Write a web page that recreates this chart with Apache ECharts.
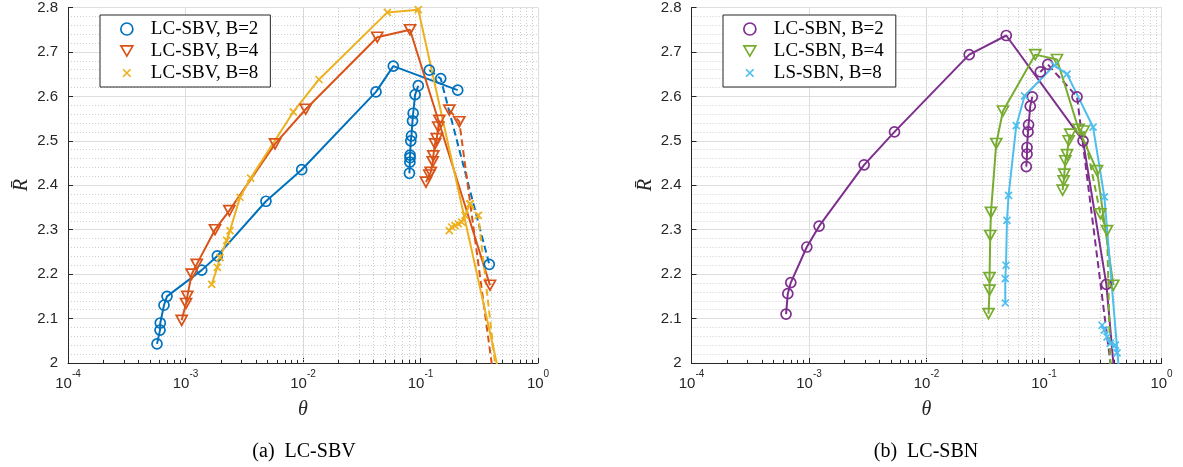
<!DOCTYPE html>
<html><head><meta charset="utf-8">
<script src="https://cdn.jsdelivr.net/npm/echarts@6/dist/echarts.min.js"></script>
<style>html,body{margin:0;padding:0;background:#fff}#c{width:1183px;height:467px}</style>
</head><body><div id="c"></div>
<script>
// ---------- data (theta, R-bar) ----------
// Panel (a) LC-SBV
const sbvB2Main = [[5.72e-4,2.043],[6.07e-4,2.074],[6.1e-4,2.090],[6.56e-4,2.130],[6.96e-4,2.150],[1.374e-3,2.209],[1.865e-3,2.241],[4.84e-3,2.364],[9.75e-3,2.435],[0.0418,2.610],[0.0587,2.668],[0.2073,2.614]];
const sbvB2Cluster = [[0.0805,2.427],[0.0812,2.452],[0.0815,2.462],[0.0815,2.468],[0.0827,2.500],[0.0838,2.511],[0.0855,2.545],[0.0866,2.562],[0.0900,2.604],[0.0957,2.624]];
const sbvB2Dash = [[0.1188,2.659],[0.1486,2.640],[0.385,2.222]];
const sbvB4Main = [[9.28e-4,2.096],[1.01e-3,2.134],[1.036e-3,2.150],[1.129e-3,2.200],[1.246e-3,2.222],[1.783e-3,2.300],[2.36e-3,2.343],[5.78e-3,2.493],[0.01054,2.571],[0.04288,2.733],[0.0814,2.750],[0.3905,2.175]];
const sbvB4Cluster = [[0.1113,2.407],[0.1188,2.423],[0.1221,2.429],[0.127,2.453],[0.1285,2.466],[0.1329,2.493],[0.1374,2.505],[0.1417,2.531],[0.1446,2.546]];
const sbvB4Dash = [[0.1758,2.569],[0.2139,2.543],[0.4124,1.98]];
const sbvB8Main = [[1.671e-3,2.177],[1.865e-3,2.215],[1.966e-3,2.237],[2.242e-3,2.276],[2.392e-3,2.298],[2.909e-3,2.373],[3.588e-3,2.416],[8.27e-3,2.565],[0.01368,2.638],[0.0522,2.789],[0.0958,2.795],[0.463,1.98]];
const sbvB8Cluster = [[0.1758,2.298],[0.1842,2.306],[0.1966,2.309],[0.2098,2.313],[0.2242,2.317],[0.2392,2.332],[0.2638,2.358]];
const sbvB8Dash = [[0.2638,2.358],[0.3103,2.332],[0.439,1.98]];
// Panel (b) LC-SBN
const sbnB2Main = [[6.38e-4,2.110],[6.60e-4,2.156],[7.0e-4,2.181],[9.58e-4,2.261],[1.219e-3,2.308],[2.946e-3,2.446],[5.34e-3,2.520],[0.0231,2.694],[0.04774,2.737],[0.2149,2.500],[0.3394,2.177],[0.3954,1.98]];
const sbnB2Cluster = [[0.0707,2.442],[0.0717,2.470],[0.0717,2.485],[0.0731,2.520],[0.0739,2.536],[0.0764,2.578],[0.0795,2.599]];
const sbnB2Dash = [[0.0930,2.655],[0.1077,2.672],[0.1910,2.599],[0.376,1.98]];
const sbnB4Main = [[0.03373,2.111],[0.0344,2.164],[0.0344,2.192],[0.03488,2.287],[0.03537,2.339],[0.03924,2.494],[0.04475,2.567],[0.0843,2.694],[0.1290,2.683],[0.197,2.526],[0.2828,2.433],[0.3892,2.175]];
const sbnB4Cluster = [[0.1441,2.389],[0.1469,2.410],[0.1489,2.425],[0.1518,2.455],[0.157,2.469],[0.162,2.500],[0.1675,2.515]];
const sbnB4Dash = [[0.2175,2.522],[0.3017,2.336],[0.344,2.298],[0.368,1.98]];
const sbnB8Main = [[0.04682,2.135],[0.04682,2.190],[0.0475,2.220],[0.0484,2.321],[0.04995,2.377],[0.05808,2.534],[0.06836,2.601],[0.1224,2.670],[0.157,2.650],[0.2615,2.531],[0.3264,2.374],[0.4354,1.98]];
const sbnB8Cluster = [[0.3119,2.085],[0.3264,2.074],[0.344,2.059],[0.367,2.044],[0.4048,2.040],[0.4185,2.023]];

const legendA = ['LC-SBV, B=2','LC-SBV, B=4','LC-SBV, B=8'];
const legendB = ['LC-SBN, B=2','LC-SBN, B=4','LS-SBN, B=8'];
const captions = ['(a)  LC-SBV','(b)  LC-SBN'];
const xMin = 1e-4, xMax = 1;
const yMin = 2, yMax = 2.8, yStep = 0.1;
const decades = [1e-4,1e-3,1e-2,1e-1];
const minorMultipliers = [2,3,4,5,6,7,8,9];

// ---------- styling ----------
const BLUE='#0072BD', ORANGE='#D95319', YELLOW='#EDB120', PURPLE='#7E2F8E', GREEN='#77AC30', CYAN='#4DBEEE';
const SYM = {o:'circle', v:'path://M0,0L10,0L5,8.66Z', x:'path://M0,0L10,10M10,0L0,10'};
const LEG_SYM = {o:'circle', v:'path://M0,0L10,0L5,8.66Z M0,-0.7L0,-0.7 M10,9.4L10,9.4', x:'path://M-3,-3L-3,-3 M13,13L13,13 M0,0L10,10M10,0L0,10'};
const SIZE = {o:10, v:[11,10], x:7};
const AX = '#262626';
const SERIF = '"Liberation Serif", "Times New Roman", serif';
const SANS = '"Liberation Sans", Arial, Helvetica, sans-serif';

function ser(name, data, color, sym, gi, dashed){
  return {type:'line', name:name, data:data, xAxisIndex:gi, yAxisIndex:gi,
    symbol:SYM[sym], symbolSize:SIZE[sym], showSymbol:true, showAllSymbol:true, clip:true, z:3,
    lineStyle:{color:color, width:2, type: dashed ? [7,4] : 'solid'},
    itemStyle:{color:'rgba(0,0,0,0)', borderColor:color, borderWidth:1.7},
    emphasis:{disabled:true}, animation:false};
}

const minorX = [];
decades.forEach(d => minorMultipliers.forEach(m => minorX.push(m*d)));
function markers(){
  const data = [];
  minorX.forEach(v => data.push({xAxis:v, lineStyle:{color:'#cfcfcf', type:[1,2], width:1}}));
  minorX.forEach(v => data.push([{coord:[v,yMin], lineStyle:{color:AX, width:1, type:'solid'}},{coord:[v,yMin+0.007]}]));
  return {silent:true, symbol:['none','none'], label:{show:false}, z:1, animation:false, data:data};
}

function xAxisFor(gi){
  return {type:'log', logBase:10, min:xMin, max:xMax, gridIndex:gi,
    name:'θ', nameLocation:'middle', nameGap:37,
    nameTextStyle:{fontFamily:SERIF, fontStyle:'italic', fontSize:20, color:AX},
    axisLine:{lineStyle:{color:AX, width:1}},
    axisTick:{inside:true, length:5, lineStyle:{color:AX}},
    axisLabel:{margin:6, color:AX, formatter:function(v){
        const e = Math.round(Math.log(v)/Math.LN10);
        return '{b|10}{s|' + e + '}';
      },
      rich:{b:{fontSize:15, fontFamily:SANS, color:AX, lineHeight:22, verticalAlign:'bottom'},
            s:{fontSize:10, fontFamily:SANS, color:AX, lineHeight:15, verticalAlign:'top'}}},
    splitLine:{show:true, lineStyle:{color:'#dedede', width:1}},
    minorTick:{show:false}, minorSplitLine:{show:false}};
}
function yAxisFor(gi){
  return {type:'value', min:yMin, max:yMax, interval:yStep, gridIndex:gi,
    name:'R\u0304', nameLocation:'middle', nameGap:36, nameRotate:90,
    nameTextStyle:{fontFamily:SERIF, fontStyle:'italic', fontSize:20, color:AX},
    axisLine:{show:true, lineStyle:{color:AX, width:1}},
    axisTick:{show:true, inside:true, length:5, lineStyle:{color:AX}},
    axisLabel:{margin:10, color:AX, fontSize:15, fontFamily:SANS,
      formatter:function(v){ return Math.abs(v-2)<1e-9 ? '2' : v.toFixed(1); }},
    splitLine:{show:true, lineStyle:{color:'#dedede', width:1}},
    minorTick:{show:false, splitNumber:5},
    minorSplitLine:{show:true, lineStyle:{color:'#cfcfcf', type:[1,2], width:1}}};
}

function legendFor(names, colors, syms, left){
  return {orient:'vertical', left:left, top:15, itemWidth:12, itemHeight:12, itemGap:0,
    padding:[3,12,3,20], backgroundColor:'#fff', borderColor:AX, borderWidth:1, borderRadius:0,
    selectedMode:false,
    textStyle:{fontFamily:SERIF, fontSize:19, color:'#000', lineHeight:22, padding:[0,0,0,13]},
    data: names.map((n,i) => ({name:n, icon:LEG_SYM[syms[i]],
      itemStyle:{color:'rgba(0,0,0,0)', borderColor:colors[i], borderWidth:1.7}}))};
}

const s0a = ser(legendA[0], sbvB2Main, BLUE, 'o', 0, false);
s0a.markLine = markers();
const s0b = ser(legendB[0], sbnB2Main, PURPLE, 'o', 1, false);
s0b.markLine = markers();

const series = [
  s0a,
  ser(legendA[0], sbvB2Cluster, BLUE, 'o', 0, false),
  ser(legendA[0], sbvB2Dash, BLUE, 'o', 0, true),
  ser(legendA[1], sbvB4Main, ORANGE, 'v', 0, false),
  ser(legendA[1], sbvB4Cluster, ORANGE, 'v', 0, false),
  ser(legendA[1], sbvB4Dash, ORANGE, 'v', 0, true),
  ser(legendA[2], sbvB8Main, YELLOW, 'x', 0, false),
  ser(legendA[2], sbvB8Cluster, YELLOW, 'x', 0, false),
  ser(legendA[2], sbvB8Dash, YELLOW, 'x', 0, true),
  s0b,
  ser(legendB[0], sbnB2Cluster, PURPLE, 'o', 1, false),
  ser(legendB[0], sbnB2Dash, PURPLE, 'o', 1, true),
  ser(legendB[1], sbnB4Main, GREEN, 'v', 1, false),
  ser(legendB[1], sbnB4Cluster, GREEN, 'v', 1, false),
  ser(legendB[1], sbnB4Dash, GREEN, 'v', 1, true),
  ser(legendB[2], sbnB8Main, CYAN, 'x', 1, false),
  ser(legendB[2], sbnB8Cluster, CYAN, 'x', 1, false)
];

const chart = echarts.init(document.getElementById('c'), null, {renderer:'canvas'});
chart.setOption({
  animation:false,
  backgroundColor:'#fff',
  grid:[{left:68, top:6, width:470, height:357}, {left:691.5, top:6, width:470, height:357}],
  xAxis:[xAxisFor(0), xAxisFor(1)],
  yAxis:[yAxisFor(0), yAxisFor(1)],
  legend:[legendFor(legendA,[BLUE,ORANGE,YELLOW],['o','v','x'],100),
          legendFor(legendB,[PURPLE,GREEN,CYAN],['o','v','x'],723)],
  graphic:[
    {type:'text', x:304, y:452, style:{text:captions[0], align:'center', verticalAlign:'middle', fontFamily:SERIF, fontSize:20, fill:'#000'}},
    {type:'text', x:926, y:452, style:{text:captions[1], align:'center', verticalAlign:'middle', fontFamily:SERIF, fontSize:20, fill:'#000'}}
  ],
  series:series
});
</script></body></html>
